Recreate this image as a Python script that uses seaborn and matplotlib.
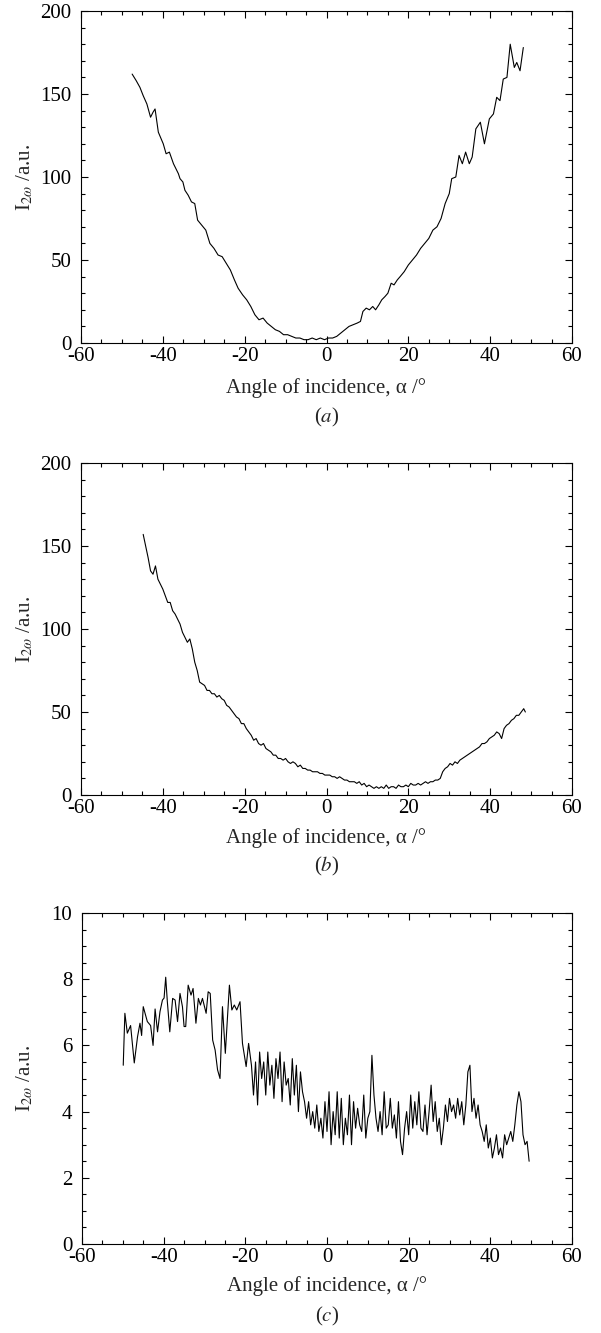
import numpy as np
import pandas as pd
import matplotlib
matplotlib.use("Agg")
import matplotlib.pyplot as plt
import seaborn as sns
from matplotlib.ticker import MultipleLocator

# ---------------- data ----------------
angle_a = [-47.5, -46.5, -45.6, -44.8, -43.9, -43.0, -42.4, -41.9, -41.1, -39.9, -39.2, -38.4, -37.4,
           -36.2, -35.8, -35.1, -34.6, -33.8, -33.0, -32.2, -31.5, -30.5, -29.5, -28.5, -27.5, -26.5,
           -25.5, -24.5, -23.5, -22.5, -21.6, -20.5, -19.5, -18.5, -17.5, -16.5, -15.5, -14.5, -13.5,
           -12.5, -11.5, -10.5, -9.5, -8.5, -7.5, -6.5, -5.5, -4.5, -3.5, -2.5, -1.5, -0.5, 0.5, 1.5,
           2.5, 3.5, 4.5, 5.5, 6.5, 7.5, 8.3, 8.9, 9.7, 10.5, 11.3, 12.0, 12.8, 13.5, 14.3, 15.0, 15.8,
           16.5, 17.3, 18.0, 19.0, 20.0, 21.0, 22.0, 23.0, 24.0, 25.0, 26.0, 27.0, 28.0, 29.0, 30.0,
           30.6, 31.6, 32.4, 33.2, 34.0, 34.9, 35.6, 36.5, 37.6, 38.6, 39.8, 40.8, 41.6, 42.4, 43.2,
           44.1, 44.9, 45.9, 46.5, 47.3, 48.1]
signal_a = [162, 158, 154, 149, 144, 136, 139, 141, 127, 120, 114, 115, 108,
            102, 99, 97, 92, 89, 85, 84, 74, 71, 68, 60, 57, 53,
            52, 48, 44, 38, 33, 29, 26, 22, 17, 14, 15, 12, 10,
            8, 7, 5, 5, 4, 3, 3, 2, 2, 3, 2, 3, 2, 3, 3,
            4, 6, 8, 10, 11, 12, 13, 19, 21, 20, 22, 20, 23, 26, 28, 30, 36,
            35, 38, 40, 43, 47, 50, 53, 57, 60, 63, 68, 70, 75, 84, 90,
            99, 100, 113, 108, 115, 108, 112, 129, 133, 120, 135, 138, 148, 146, 159,
            160, 180, 166, 169, 164, 178]

angle_b = [-44.8, -44.2, -43.6, -43.0, -42.4, -41.8, -41.2, -40.6, -40.0, -39.4, -38.8, -38.2, -37.6,
           -37.0, -36.4, -35.8, -35.2, -34.6, -34.0, -33.4, -32.8, -32.2, -31.6, -31.0, -30.4, -29.8,
           -29.2, -28.6, -28.0, -27.4, -26.8, -26.2, -25.6, -25.0, -24.4, -23.8, -23.2, -22.6, -22.0,
           -21.4, -20.8, -20.2, -19.6, -19.0, -18.4, -17.8, -17.2, -16.6, -16.0, -15.4, -14.8, -14.2,
           -13.6, -13.0, -12.4, -11.8, -11.2, -10.6, -10.0, -9.4, -8.8, -8.2, -7.6, -7.0, -6.4, -5.8,
           -5.2, -4.6, -4.0, -3.4, -2.8, -2.2, -1.6, -1.0, -0.4, 0.2, 0.8, 1.4, 2.0, 2.6, 3.2, 3.8,
           4.4, 5.0, 5.6, 6.2, 6.8, 7.4, 8.0, 8.6, 9.2, 9.8, 10.4, 11.0, 11.6, 12.2, 12.8, 13.4, 14.0,
           14.6, 15.2, 15.8, 16.4, 17.0, 17.6, 18.2, 18.8, 19.4, 20.0, 20.6, 21.2, 21.8, 22.4, 23.0,
           23.6, 24.2, 24.8, 25.4, 26.0, 26.6, 27.2, 27.8, 28.4, 29.0, 29.6, 30.2, 30.8, 31.4, 32.0,
           32.6, 33.2, 33.8, 34.4, 35.0, 35.6, 36.2, 36.8, 37.4, 38.0, 38.6, 39.2, 39.8, 40.4, 41.0,
           41.6, 42.2, 42.8, 43.4, 44.0, 44.6, 45.2, 45.8, 46.4, 47.0, 47.6, 48.2, 48.6]
signal_b = [157, 150, 143, 135, 133, 138, 130, 127, 124, 120, 116, 116, 111,
            109, 106, 103, 98, 95, 92, 94, 88, 80, 75, 68, 67, 66,
            63, 63, 61, 61, 59, 60, 58, 57, 54, 53, 51, 49, 47,
            46, 43, 43, 40, 38, 36, 33, 34, 31, 30, 31, 28, 27,
            26, 24, 24, 22, 22, 21, 22, 20, 19, 20, 19, 17, 18, 16,
            16, 15, 15, 14, 14, 14, 13, 13, 12, 12, 12, 11, 11, 10, 11, 10,
            9, 9, 8, 8, 8, 7, 8, 6, 7, 5, 6, 5, 4, 5, 4, 5, 4,
            6, 4, 5, 5, 4, 6, 5, 5, 6, 5, 7, 6, 6, 7, 6,
            7, 8, 7, 8, 8, 9, 9, 10, 14, 16, 17, 19, 18, 20, 19,
            21, 22, 23, 24, 25, 26, 27, 28, 29, 31, 31, 32, 34, 35, 36,
            38, 37, 34, 40, 42, 43, 45, 46, 48, 48, 50, 52, 50]

angle_c = [-49.9, -49.5, -48.9, -48.1, -47.2, -46.4, -45.8, -45.4, -45.0, -44.0, -43.2, -42.6, -42.1,
           -41.5, -40.9, -40.3, -39.9, -39.5, -39.1, -38.5, -37.8, -37.2, -36.6, -36.0, -35.4, -35.0,
           -34.6, -34.0, -33.3, -32.8, -32.1, -31.5, -31.0, -30.5, -29.6, -29.1, -28.6, -28.0, -27.4,
           -26.8, -26.2, -25.6, -24.9, -23.9, -23.3, -22.7, -22.1, -21.3, -20.7, -19.8, -19.2, -18.5,
           -18.0, -17.5, -17.0, -16.5, -16.0, -15.5, -15.0, -14.5, -14.0, -13.5, -13.0, -12.5, -12.0,
           -11.5, -11.0, -10.5, -10.0, -9.5, -9.0, -8.5, -8.0, -7.5, -7.0, -6.5, -6.0, -5.5, -5.0,
           -4.5, -4.0, -3.5, -3.0, -2.5, -2.0, -1.5, -1.0, -0.5, 0.0, 0.5, 1.0, 1.5, 2.0, 2.5, 3.0,
           3.5, 4.0, 4.5, 5.0, 5.5, 6.0, 6.5, 7.0, 7.5, 8.0, 8.5, 9.0, 9.5, 10.0, 10.5, 11.0, 11.5,
           12.0, 12.5, 13.0, 13.5, 14.0, 14.5, 15.0, 15.5, 16.0, 16.5, 17.0, 17.5, 18.0, 18.5, 19.0,
           19.5, 20.0, 20.5, 21.0, 21.5, 22.0, 22.5, 23.0, 23.5, 24.0, 24.5, 25.0, 25.5, 26.0, 26.5,
           27.0, 27.5, 28.0, 28.5, 29.0, 29.5, 30.0, 30.5, 31.0, 31.5, 32.0, 32.5, 33.0, 33.5, 34.0,
           34.5, 35.0, 35.5, 36.0, 36.5, 37.0, 37.5, 38.0, 38.5, 39.0, 39.5, 40.0, 40.5, 41.0, 41.5,
           42.0, 42.5, 43.0, 43.5, 44.0, 44.5, 45.0, 45.5, 46.0, 46.5, 47.0, 47.5, 48.0, 48.5, 49.0,
           49.5]
signal_c = [5.4, 6.97, 6.37, 6.6, 5.47, 6.26, 6.67, 6.3, 7.17, 6.72, 6.6, 6.0, 7.1,
            6.41, 7.02, 7.37, 7.43, 8.06, 7.32, 6.41, 7.42, 7.37, 6.72, 7.57, 7.17, 6.57,
            6.57, 7.82, 7.52, 7.72, 6.67, 7.42, 7.22, 7.42, 6.97, 7.62, 7.57, 6.16, 5.86,
            5.26, 5.0, 7.17, 5.76, 7.82, 7.07, 7.22, 7.07, 7.32, 6.06, 5.36, 6.06, 5.4,
            4.5, 5.5, 4.2, 5.8, 5.0, 5.5, 4.5, 5.8, 4.8, 5.4, 4.4, 5.6, 5.0,
            5.8, 4.3, 5.5, 4.8, 5.0, 4.2, 5.6, 4.5, 5.4, 4.0, 5.2, 4.6, 4.3, 3.8,
            4.3, 3.6, 4.0, 3.5, 4.2, 3.4, 3.8, 3.2, 4.3, 3.4, 4.6, 3.0, 4.0, 3.3, 4.6, 3.2,
            4.4, 3.0, 3.8, 3.3, 4.5, 3.0, 4.3, 3.5, 4.1, 3.6, 3.4, 4.5, 3.2, 3.8, 4.0, 5.7, 4.5,
            3.8, 3.4, 4.0, 3.3, 4.6, 3.5, 3.6, 4.4, 3.5, 3.9, 3.2, 4.3, 3.1, 2.7, 3.5,
            4.0, 3.3, 4.5, 3.5, 4.3, 3.6, 4.6, 3.5, 3.4, 4.2, 3.3, 4.0, 4.8, 3.7, 4.3,
            3.4, 3.8, 3.0, 3.5, 4.2, 3.7, 4.4, 4.0, 4.2, 3.8, 4.4, 3.9, 4.3, 3.6, 4.2,
            5.2, 5.4, 4.0, 4.4, 3.8, 4.2, 3.6, 3.4, 3.1, 3.6, 2.9, 3.2, 2.6, 2.9, 3.3,
            2.7, 2.9, 2.6, 3.3, 3.0, 3.2, 3.4, 3.1, 3.6, 4.2, 4.6, 4.3, 3.3, 3.0, 3.1,
            2.5]

x_label = "Angle of incidence, α /°"
y_label = r"I$_{2\omega}$ /a.u."
captions = [r"($\mathit{a}$)", r"($\mathit{b}$)", r"($\mathit{c}$)"]
y_limits = [(0, 200), (0, 200), (0, 10)]
y_major = [50, 50, 2]
y_minor = [10, 10, 0.5]

# ---------------- style ----------------
sns.set_theme(style="ticks")
plt.rcParams["font.family"] = ["Liberation Serif", "DejaVu Serif"]
plt.rcParams["mathtext.fontset"] = "stix"
plt.rcParams["axes.unicode_minus"] = False
plt.rcParams["axes.linewidth"] = 0.8

fig = plt.figure(figsize=(6.01, 13.33), dpi=100)
H = 1333.0
W = 601.0
boxes = [(81, 572, 11, 343), (81, 572, 463, 795), (82, 572, 913, 1244)]
xlabel_y = [388, 838, 1286]
caption_y = [417, 866, 1316]

datasets = [(angle_a, signal_a), (angle_b, signal_b), (angle_c, signal_c)]

for i, ((l, r, t, b), (xs, ys)) in enumerate(zip(boxes, datasets)):
    ax = fig.add_axes([l / W, 1 - b / H, (r - l) / W, (b - t) / H])
    df = pd.DataFrame({"angle": xs, "signal": ys})
    sns.lineplot(data=df, x="angle", y="signal", ax=ax, color="black",
                 linewidth=0.8, sort=False, estimator=None)
    ax.set_xlim(-60, 60)
    ax.set_ylim(*y_limits[i])
    ax.xaxis.set_major_locator(MultipleLocator(20))
    ax.xaxis.set_minor_locator(MultipleLocator(5))
    ax.yaxis.set_major_locator(MultipleLocator(y_major[i]))
    ax.yaxis.set_minor_locator(MultipleLocator(y_minor[i]))
    ax.tick_params(which="both", direction="in", top=True, right=True,
                   width=0.8, labelsize=15, colors="black")
    ax.tick_params(which="major", length=5)
    ax.tick_params(which="minor", length=3)
    ax.tick_params(axis="x", which="major", pad=3)
    ax.tick_params(axis="y", which="major", pad=7)
    for s in ax.spines.values():
        s.set_visible(True)
        s.set_color("black")
        s.set_linewidth(0.8)
    ax.set_xlabel(x_label, fontsize=15, va="center")
    ax.xaxis.set_label_coords(0.5, (b - xlabel_y[i]) / (b - t))
    ax.set_ylabel(y_label, fontsize=15, va="center")
    ax.yaxis.set_label_coords((25 - l) / (r - l), 0.5)
    fig.text(((l + r) / 2) / W, 1 - caption_y[i] / H, captions[i],
             fontsize=15, ha="center", va="center")

fig.savefig("out.png", dpi=100)
